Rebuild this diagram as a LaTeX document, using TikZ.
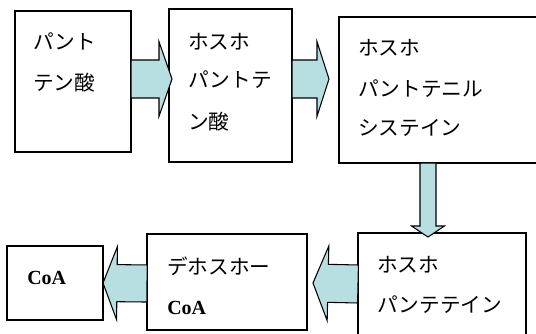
\documentclass[tikz,border=0pt]{standalone}
\usepackage{fontspec}
\setmainfont{Liberation Serif}
\newfontfamily\jp{Noto Sans CJK JP}
\usetikzlibrary{calc}
\definecolor{arrowfill}{RGB}{183,222,225}
\tikzset{
  box/.style={draw, line width=0.9pt, inner sep=0pt, outer sep=0pt},
  jt/.style={anchor=base west, inner sep=0pt, font=\jp\fontsize{15.5}{18}\selectfont},
  et/.style={anchor=base west, inner sep=0pt, font=\bfseries\fontsize{15}{18}\selectfont},
  blk/.style n args={3}{fill=arrowfill, draw, line width=0.8pt, line join=miter,
    to path={let \p1=(\tikztostart), \p2=(\tikztotarget), \p3=($(\p2)!#3!(\p1)$) in
      ($(\p1)!#1!90:(\p2)$) -- ($(\p3)!#1!90:(\p2)$) -- ($(\p3)!#2!90:(\p2)$) -- (\p2)
      -- ($(\p3)!#2!-90:(\p2)$) -- ($(\p3)!#1!-90:(\p2)$) -- ($(\p1)!#1!-90:(\p2)$) -- cycle}}
}
\begin{document}
\begin{tikzpicture}[x=0.75pt,y=-0.75pt]
\useasboundingbox (0,0) rectangle (536,334);
\clip (0,0) rectangle (536,334);
% boxes
\node[box, minimum width=87pt, minimum height=105.75pt] (b1) at (73,81.5) {};
\node[box, minimum width=92.25pt, minimum height=114.75pt] (b2) at (230.5,85.5) {};
\node[box, minimum width=165.75pt, minimum height=109.5pt] (b3) at (449.5,90) {};
\node[box, minimum width=126pt, minimum height=95.25pt] (b5) at (442,296.5) {};
\node[box, minimum width=120pt, minimum height=72pt] (b4) at (227,282) {};
\node[box, minimum width=72pt, minimum height=55.5pt] (b6) at (55,283) {};
% texts
\node[jt] (t11) at (33,50) {パント};
\node[jt] (t12) at (33,91) {テン酸};
\node[jt] (t21) at (188,50) {ホスホ};
\node[jt] (t22) at (188,88) {パントテ};
\node[jt] (t23) at (188,130) {ン酸};
\node[jt] (t31) at (358,56) {ホスホ};
\node[jt] (t32) at (358,97) {パントテニル};
\node[jt] (t33) at (358,136) {システイン};
\node[jt] (t51) at (377,273) {ホスホ};
\node[jt] (t52) at (377,313) {パンテテイン};
\node[jt] (t41) at (167,275) {デホスホー};
\node[et] (t42) at (167,315) {CoA};
\node[et] (t61) at (27,285) {CoA};
% connector end points
\coordinate (s1) at (b1.east |- 0,79);
\coordinate (e1) at ($(b2.west |- 0,79)+(3,0)$);
\coordinate (s2) at (b2.east |- 0,79);
\coordinate (e2) at ($(b3.west |- 0,79)+(-10,0)$);
\coordinate (s3) at (b3.south -| 428,0);
\coordinate (e3) at ($(b5.north -| 428,0)+(0,4)$);
\coordinate (s4) at (b5.west |- 0,284);
\coordinate (e4) at ($(b4.east |- 0,283)+(6,0)$);
\coordinate (s5) at (b4.west |- 0,283.5);
\coordinate (e5) at (b6.east |- 0,283);
% block arrows
\draw[blk={14.25pt}{28pt}{9.75pt}] (s1) to (e1);
\draw[blk={14.25pt}{28pt}{9pt}] (s2) to (e2);
\draw[blk={6pt}{12.4pt}{8.25pt}] (s3) to (e3);
\draw[blk={14.25pt}{28pt}{11.25pt}] (s4) to (e4);
\draw[blk={13.9pt}{27.4pt}{10.5pt}] (s5) to (e5);
\end{tikzpicture}
\end{document}
